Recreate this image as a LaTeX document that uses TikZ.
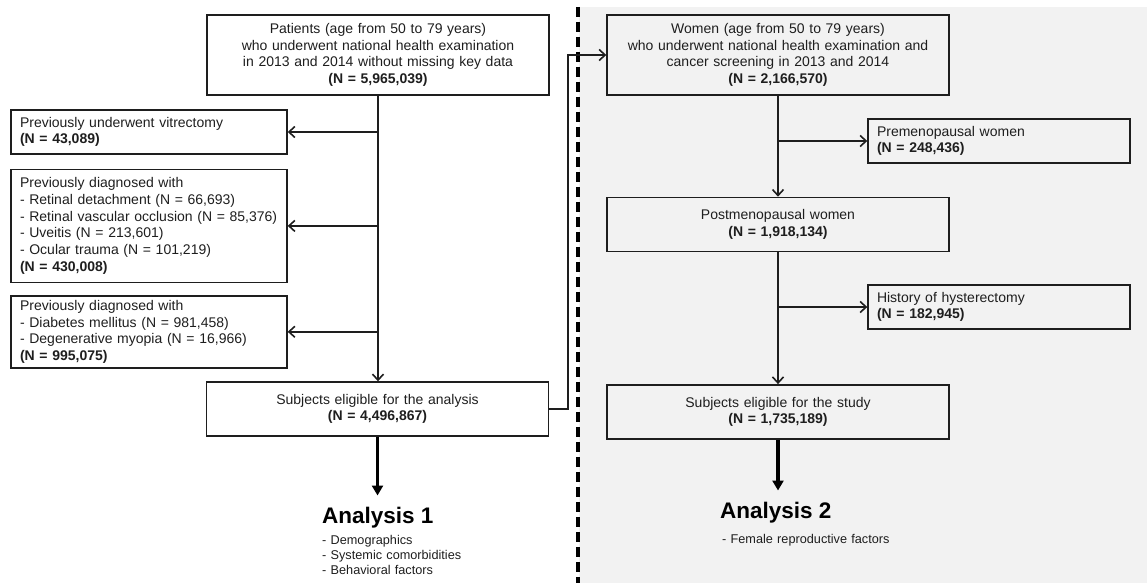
\documentclass[tikz,border=0pt]{standalone}
\usepackage{fontspec}
\setmainfont{Liberation Sans}
\usetikzlibrary{arrows.meta,positioning,calc}
\definecolor{panelgray}{RGB}{242,242,242}
\definecolor{inkgray}{RGB}{30,30,30}

\begin{document}
\begin{tikzpicture}[x=1pt, y=-1pt, every node/.style={align=center}]
    \tikzset{
      flowbox/.style={
        draw=inkgray,
        line width=1.4pt,
        align=center,
        text=inkgray,
        inner xsep=0pt,
        inner ysep=0pt,
        text width=342pt,
        font=\fontsize{14}{16.7}\selectfont
      },
      exclbox/.style={
        flowbox,
        align=left,
        inner xsep=9pt,
        text width=#1
      },
      exclbox/.default=258pt,
      antitle/.style={
        inner sep=0pt,
        text=black,
        font=\fontsize{22.5}{26}\selectfont\bfseries
      },
      anlist/.style={
        inner sep=0pt,
        align=left,
        text width=200pt,
        text=inkgray,
        font=\fontsize{12.7}{15}\selectfont
      },
      thinarrow/.style={
        draw=inkgray,
        line width=1.6pt,
        -{Straight Barb[length=6pt,width=11pt]}
      },
      bigarrow/.style={
        draw=black,
        line width=3.2pt,
        -{Triangle[length=10pt,width=11pt]}
      }
    }
    \useasboundingbox (0,0) rectangle (1147,583);
    % right panel background and divider
    \fill[panelgray] (579,7) rectangle (1147,583);
    \draw[black, line width=3.2pt, dash pattern=on 10pt off 5pt] (578,7) -- (578,583);

    % analysis 1
    \node[flowbox, minimum height=80pt] (pat) at (378,55) {Patients (age from 50 to 79 years)\\who underwent national health examination\\in 2013 and 2014 without missing key data\\\textbf{(N = 5,965,039)}};
    \node[exclbox, minimum height=44pt] (vit) at (149,132) {Previously underwent vitrectomy\\\textbf{(N = 43,089)}};
    \node[exclbox, minimum height=113pt, below=14pt of vit] (diageye) {Previously diagnosed with\\- Retinal detachment (N = 66,693)\\- Retinal vascular occlusion (N = 85,376)\\- Uveitis (N = 213,601)\\- Ocular trauma (N = 101,219)\\\textbf{(N = 430,008)}};
    \node[exclbox, minimum height=72pt, below=12pt of diageye] (diagsys) {Previously diagnosed with\\- Diabetes mellitus (N = 981,458)\\- Degenerative myopia (N = 16,966)\\\textbf{(N = 995,075)}};
    \node[flowbox, minimum height=54pt] (elig) at (377.5,409) {Subjects eligible for the analysis\\\textbf{(N = 4,496,867)}};
    \node[antitle, anchor=base west] (an1) at (322,523) {Analysis 1};
    \node[anlist, anchor=base west] (an1list) at (322,544) {- Demographics\\- Systemic comorbidities\\- Behavioral factors};

    % analysis 2
    \node[flowbox, minimum height=80pt] (women) at (778,55) {Women (age from 50 to 79 years)\\who underwent national health examination and\\cancer screening in 2013 and 2014\\\textbf{(N = 2,166,570)}};
    \node[exclbox=244pt, minimum height=44pt] (premeno) at (999,141) {Premenopausal women\\\textbf{(N = 248,436)}};
    \node[flowbox, minimum height=54pt, below=101pt of women] (postmeno) {Postmenopausal women\\\textbf{(N = 1,918,134)}};
    \node[exclbox=244pt, minimum height=44pt] (hyster) at (999,307) {History of hysterectomy\\\textbf{(N = 182,945)}};
    \node[flowbox, minimum height=54pt, below=132pt of postmeno] (study) {Subjects eligible for the study\\\textbf{(N = 1,735,189)}};
    \node[antitle, anchor=base west] (an2) at (720,518) {Analysis 2};
    \node[anlist, anchor=base west] (an2list) at (722,543) {- Female reproductive factors};

    % connectors
    \draw[thinarrow] (pat.south) -- (pat.south |- elig.north);
    \draw[thinarrow] (pat.south |- vit.east) -- (vit.east);
    \draw[thinarrow] (pat.south |- diageye.east) -- (diageye.east);
    \draw[thinarrow] (pat.south |- diagsys.east) -- (diagsys.east);
    \draw[thinarrow] (elig.east) -- ++(19,0) |- (women.west);
    \draw[thinarrow] (women.south) -- (postmeno.north);
    \draw[thinarrow] (women.south |- premeno.west) -- (premeno.west);
    \draw[thinarrow] (postmeno.south) -- (study.north);
    \draw[thinarrow] (postmeno.south |- hyster.west) -- (hyster.west);
    \draw[bigarrow, shorten >=11pt] (elig.south) -- (elig.south |- an1.north);
    \draw[bigarrow, shorten >=11pt] (study.south) -- (study.south |- an2.north);
  \end{tikzpicture}
\end{document}
